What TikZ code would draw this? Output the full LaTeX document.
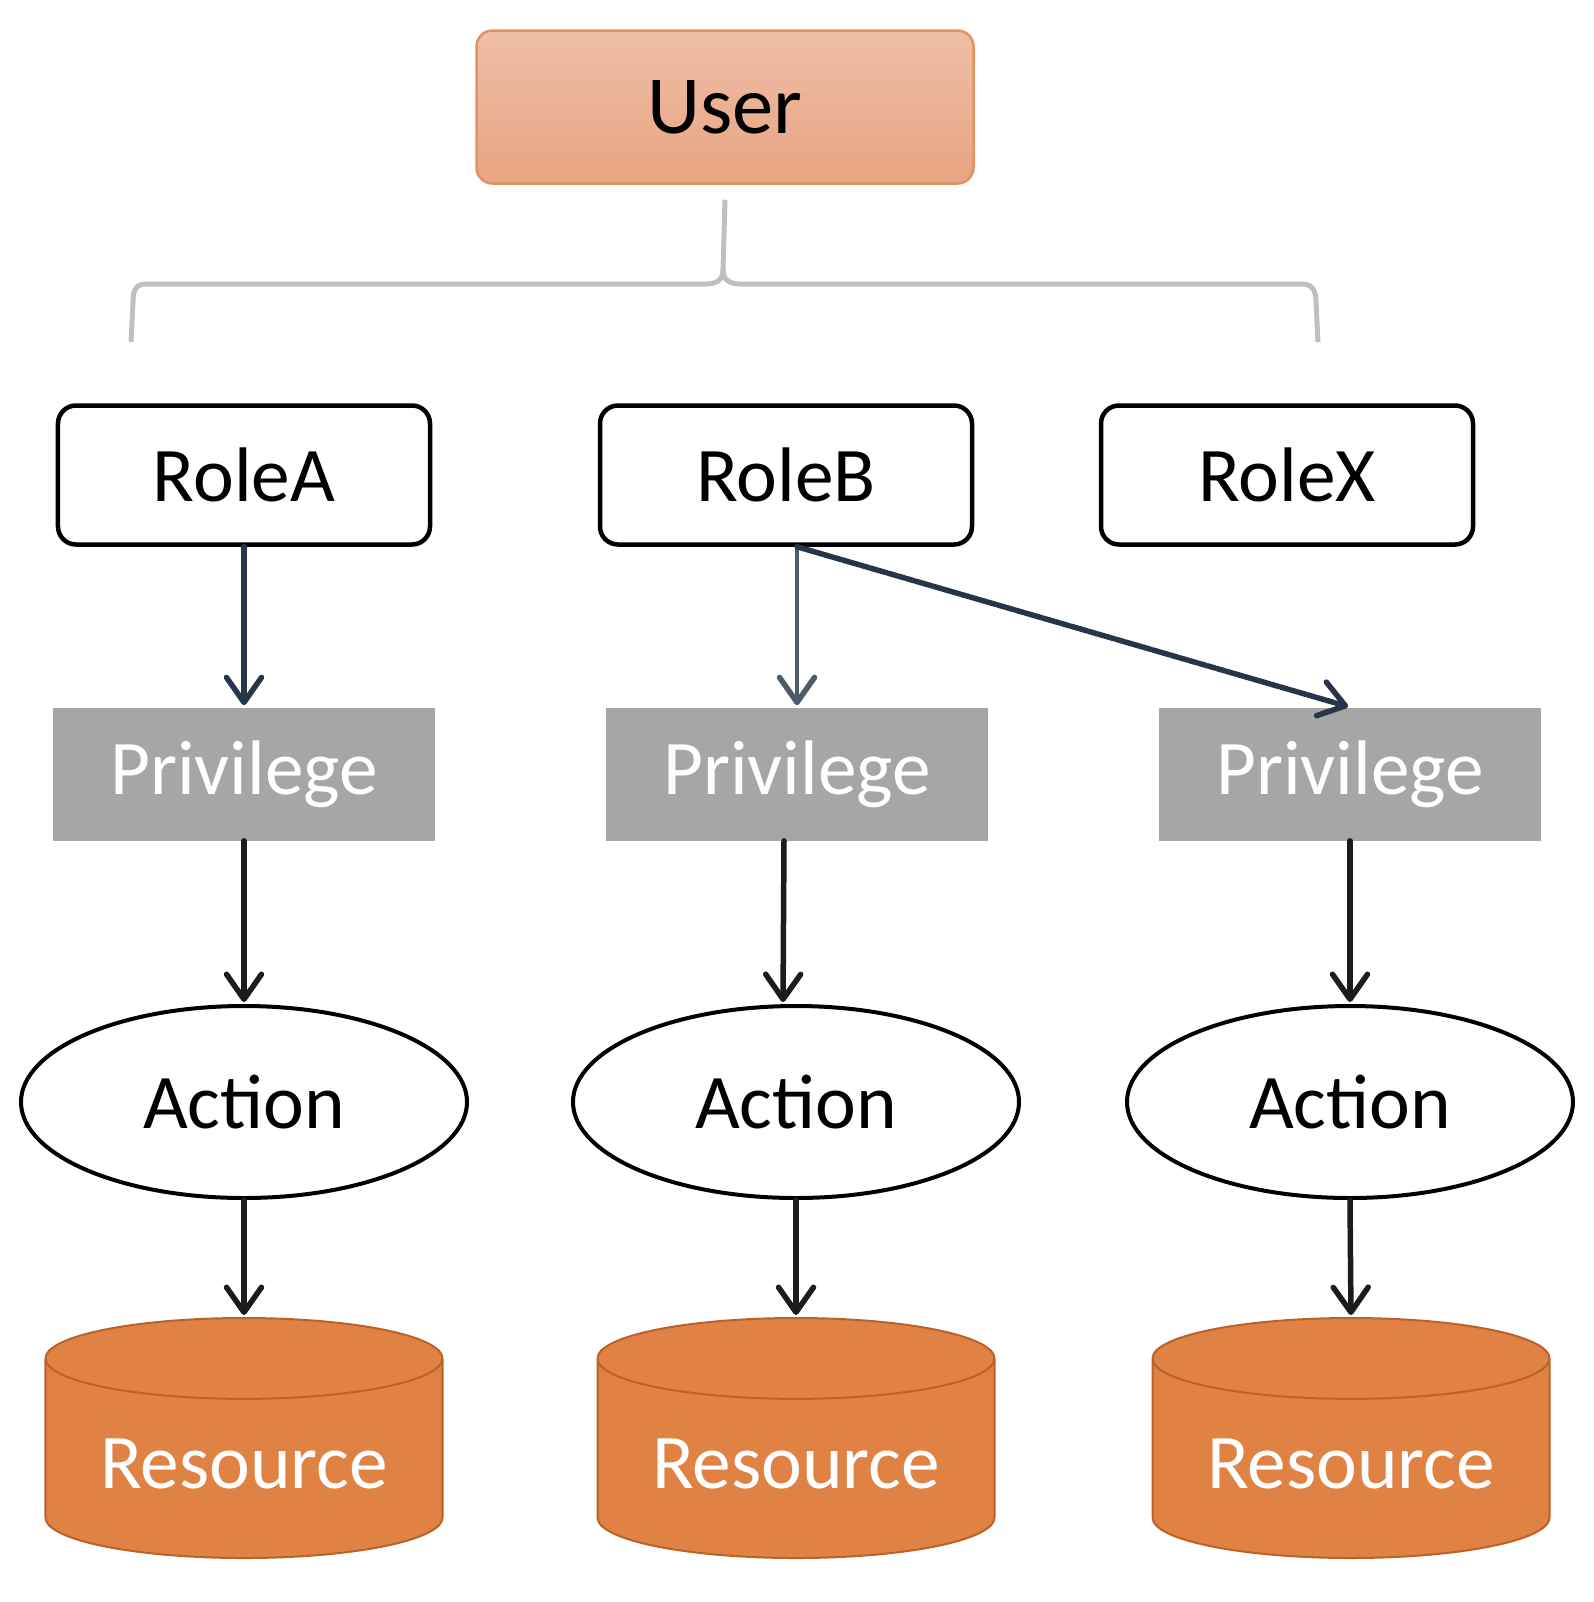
\documentclass[tikz,border=0pt]{standalone}
\usepackage{fontspec}
\setmainfont{Carlito}
\usetikzlibrary{arrows.meta,positioning,shapes.geometric}
\definecolor{usertop}{HTML}{EEBEA6}
\definecolor{userbot}{HTML}{E8A482}
\definecolor{userline}{HTML}{E3915F}
\definecolor{privgray}{HTML}{A6A6A6}
\definecolor{resfill}{HTML}{DF8244}
\definecolor{resline}{HTML}{B9622A}
\definecolor{bracegray}{HTML}{BFBFBF}
\definecolor{linkcol}{HTML}{1C1C1C}
\definecolor{navycol}{HTML}{26364A}
\definecolor{slatecol}{HTML}{4D5B6B}

\begin{document}
\begin{tikzpicture}[x=0.2mm,y=-0.2mm,
  every node/.style={font=\fontsize{44}{48}\selectfont},
  userbox/.style={draw=userline,line width=0.5mm,rounded corners=3.2mm,top color=usertop,bottom color=userbot,
    minimum width=99.4mm,minimum height=30.6mm,font=\fontsize{47}{50}\selectfont},
  rolebox/.style={draw=black,line width=0.9mm,rounded corners=3.6mm,fill=white,minimum width=74.4mm,minimum height=27.8mm},
  privbox/.style={fill=privgray,text=white,minimum width=76.4mm,minimum height=26.6mm},
  actnode/.style={ellipse,draw=black,line width=0.8mm,fill=white,minimum width=89.2mm,minimum height=38.4mm},
  resnode/.style={cylinder,shape border rotate=90,aspect=0.27,draw=resline,line width=0.4mm,fill=resfill,text=white,
    minimum width=79.4mm,minimum height=48mm,anchor=shape center},
  link/.style={line width=1.1mm,draw=linkcol,shorten >=0.4mm,line cap=round,
    -{Straight Barb[length=5mm,width=7mm,line width=1.1mm,round]}},
  brace/.style={draw=bracegray,line width=1mm},
]
\useasboundingbox (0,0) rectangle (1594,1602);

% top
\node[userbox] (u) at (725,107) {User};

% roles
\node[rolebox] (rA) at (244,475) {RoleA};
\node[rolebox] (rB) at (786,475) {RoleB};
\node[rolebox] (rX) at (1287,475) {RoleX};

% privileges
\node[privbox] (pA) at (244,774) {Privilege};
\node[privbox] (pB) at (797,774) {Privilege};
\node[privbox] (pX) at (1350,774) {Privilege};

% actions
\node[actnode] (aA) at (244,1102) {Action};
\node[actnode] (aB) at (796,1102) {Action};
\node[actnode] (aX) at (1350,1102) {Action};

% resources
\node[resnode] (sA) at (244,1438) {Resource};
\node[resnode] (sB) at (796,1438) {Resource};
\node[resnode] (sX) at (1351,1438) {Resource};

% bracket under the user
\coordinate (bl) at (131,342);
\coordinate (br) at (1318,342);
\draw[brace] ([yshift=-3mm]u.south) -- (723,270) .. controls (723,280) and (716,284) .. (706,284)
  -- (146,284) .. controls (136,284) and (133,290) .. (133,302) -- (bl);
\draw[brace] (723,270) .. controls (723,280) and (730,284) .. (740,284)
  -- (1302,284) .. controls (1312,284) and (1316,290) .. (1316,302) -- (br);

% links
\draw[link,draw=navycol] (rA.south) -- (pA.north);
\draw[link,draw=slatecol,line width=0.9mm] (pB.north |- rB.south) -- (pB.north);
\draw[link,draw=navycol,dash pattern=on 1.6mm off 0.3mm] (pB.north |- rB.south) -- (pX.north);
\draw[link] (pA.south) -- (aA.north);
\draw[link] ([xshift=-2.6mm]pB.south) -- ([xshift=-2.6mm]aB.north);
\draw[link] (pX.south) -- (aX.north);
\draw[link] (aA.south) -- (sA.north);
\draw[link] (aB.south) -- (sB.north);
\draw[link] (aX.south) -- (sX.north);
\end{tikzpicture}
\end{document}
